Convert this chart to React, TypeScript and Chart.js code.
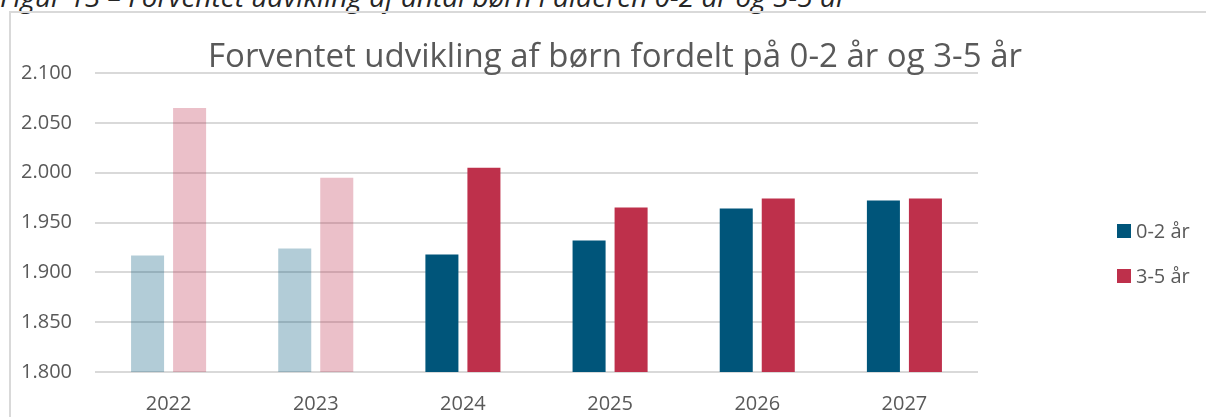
import React, { useEffect, useRef } from "react";
import { Chart, registerables } from "chart.js";

Chart.register(...registerables);

// ---- data ----
const years = ["2022", "2023", "2024", "2025", "2026", "2027"];
const age0to2 = [1917, 1924, 1918, 1932, 1964, 1972];
const age3to5 = [2065, 1995, 2005, 1965, 1974, 1974];
const seriesLabels = ["0-2 år", "3-5 år"];
const yMin = 1800;
const yMax = 2100;
const yStep = 50;
const historicCount = 2; // first two years shown faded
const titleText = "Forventet udvikling af børn fordelt på 0-2 år og 3-5 år";
const captionText =
  "Figur 13 – Forventet udvikling af antal børn i alderen 0-2 år og 3-5 år";

const FONT = '"Open Sans", "DejaVu Sans", sans-serif';
const TEXT = "#595959";
const BLUE = "rgb(0,85,122)";
const BLUE_FADED = "rgba(0,85,122,0.3)";
const RED = "rgb(190,48,75)";
const RED_FADED = "rgba(190,48,75,0.3)";

function formatDa(v: number): string {
  const s = Math.round(v).toString();
  return s.replace(/\B(?=(\d{3})+(?!\d))/g, ".");
}

const sideLegend = {
  id: "sideLegend",
  afterDraw(chart: any) {
    const ctx = chart.ctx;
    const area = chart.chartArea;
    ctx.save();
    chart.data.datasets.forEach((ds: any, i: number) => {
      const cy = 231 + i * 45;
      const bx = area.right + 139;
      ctx.fillStyle = ds.legendColor;
      ctx.fillRect(bx, cy - 7, 14, 14);
      ctx.fillStyle = TEXT;
      ctx.font = `20px ${FONT}`;
      ctx.textBaseline = "middle";
      ctx.textAlign = "left";
      ctx.fillText(ds.label, bx + 19, cy + 1);
    });
    ctx.restore();
  },
};

export default function App() {
  const canvasRef = useRef<HTMLCanvasElement | null>(null);

  useEffect(() => {
    const canvas = canvasRef.current;
    if (!canvas) return;
    const chart = new Chart(canvas, {
      type: "bar",
      data: {
        labels: years,
        datasets: [
          {
            label: seriesLabels[0],
            data: age0to2,
            backgroundColor: years.map((_, i) => (i < historicCount ? BLUE_FADED : BLUE)),
            legendColor: BLUE,
            categoryPercentage: 0.571,
            barPercentage: 0.786,
          } as any,
          {
            label: seriesLabels[1],
            data: age3to5,
            backgroundColor: years.map((_, i) => (i < historicCount ? RED_FADED : RED)),
            legendColor: RED,
            categoryPercentage: 0.571,
            barPercentage: 0.786,
          } as any,
        ],
      },
      options: {
        responsive: false,
        animation: false,
        devicePixelRatio: 1,
        layout: { padding: 0 },
        plugins: {
          legend: { display: false },
          tooltip: { enabled: false },
          title: {
            display: true,
            text: titleText,
            color: TEXT,
            font: { family: FONT, size: 33, weight: "normal", lineHeight: 1 },
            padding: { top: 41, bottom: -1 },
          },
        },
        scales: {
          x: {
            grid: { display: false, drawTicks: false },
            border: { display: false },
            ticks: {
              color: TEXT,
              font: { family: FONT, size: 20 },
              padding: 20,
            },
            afterFit: (scale: any) => {
              scale.height = 45;
            },
          },
          y: {
            min: yMin,
            max: yMax,
            grid: { color: "#d9d9d9", lineWidth: 2, drawTicks: false },
            border: { display: false },
            ticks: {
              stepSize: yStep,
              color: TEXT,
              font: { family: FONT, size: 20 },
              padding: 23,
              callback: (v: any) => formatDa(Number(v)),
            },
            afterFit: (scale: any) => {
              scale.width = 95;
            },
          },
          legendSpace: {
            type: "linear",
            position: "right",
            display: true,
            grid: { display: false, drawTicks: false },
            border: { display: false },
            ticks: { display: false },
            afterFit: (scale: any) => {
              scale.width = 252;
            },
          },
        },
      },
      plugins: [sideLegend],
    } as any);
    return () => chart.destroy();
  }, []);

  return (
    <div
      style={{
        position: "fixed",
        left: 0,
        top: 0,
        width: 1206,
        height: 417,
        overflow: "hidden",
        background: "#fff",
      }}
    >
      <div
        style={{
          position: "absolute",
          left: 0,
          top: -18,
          whiteSpace: "nowrap",
          fontFamily: FONT,
          fontStyle: "italic",
          fontSize: 28,
          lineHeight: "28px",
          color: "#262626",
        }}
      >
        {captionText}
      </div>
      <div
        style={{
          position: "absolute",
          left: 9,
          top: 11,
          width: 1300,
          height: 500,
          border: "2px solid #d9d9d9",
        }}
      />
      <canvas
        ref={canvasRef}
        width={1230}
        height={417}
        style={{ position: "absolute", left: 0, top: 0, width: 1230, height: 417 }}
      />
    </div>
  );
}
